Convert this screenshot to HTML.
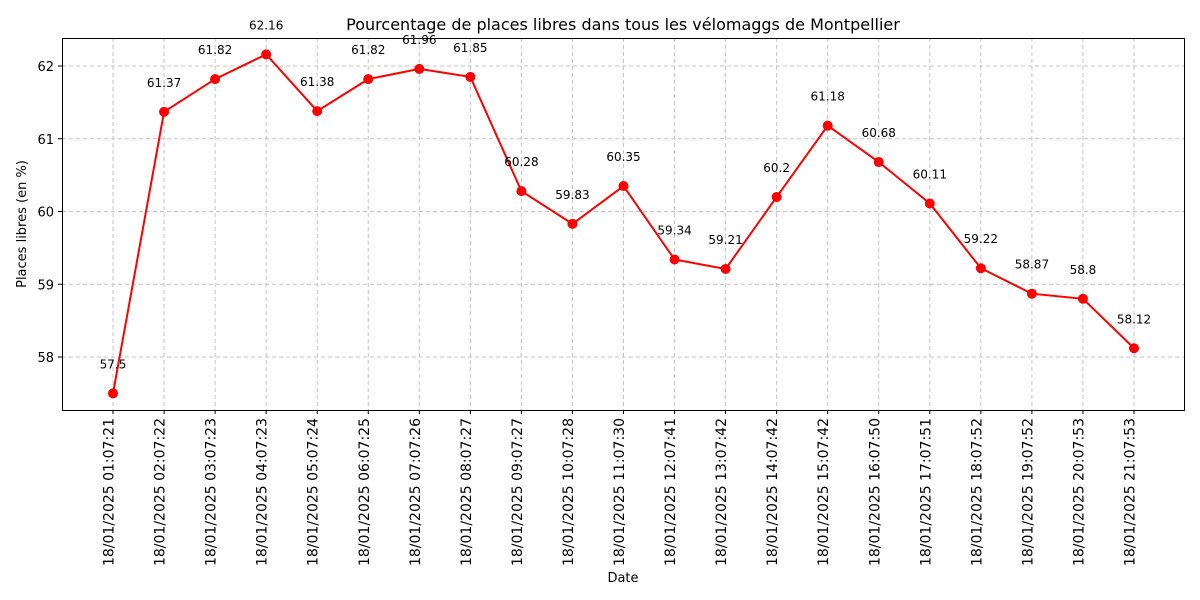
<!DOCTYPE html>
<html><head><meta charset="utf-8"><style>
html,body{margin:0;padding:0;background:#fff;}
svg{display:block;font-family:"DejaVu Sans","Liberation Sans",sans-serif;}
</style></head><body>
<svg id="chart" width="1200" height="600" viewBox="0 0 1200 600">
<rect x="0" y="0" width="1200" height="600" fill="#fff"/>
<text x="623" y="30" text-anchor="middle" font-size="16">Pourcentage de places libres dans tous les vélomaggs de Montpellier</text>
<g id="grid"></g>
<g id="xticks"></g>
<g id="yticks"></g>
<g id="series"></g>
<rect x="62.5" y="38.5" width="1122" height="372" fill="none" stroke="#000" stroke-width="1"/>
<text x="623" y="582" text-anchor="middle" font-size="13">Date</text>
<text transform="translate(26,224) rotate(-90)" text-anchor="middle" font-size="13">Places libres (en %)</text>
</svg>
<script>
const categories = ["18/01/2025 01:07:21","18/01/2025 02:07:22","18/01/2025 03:07:23","18/01/2025 04:07:23","18/01/2025 05:07:24","18/01/2025 06:07:25","18/01/2025 07:07:26","18/01/2025 08:07:27","18/01/2025 09:07:27","18/01/2025 10:07:28","18/01/2025 11:07:30","18/01/2025 12:07:41","18/01/2025 13:07:42","18/01/2025 14:07:42","18/01/2025 15:07:42","18/01/2025 16:07:50","18/01/2025 17:07:51","18/01/2025 18:07:52","18/01/2025 19:07:52","18/01/2025 20:07:53","18/01/2025 21:07:53"];
const values = [57.5,61.37,61.82,62.16,61.38,61.82,61.96,61.85,60.28,59.83,60.35,59.34,59.21,60.2,61.18,60.68,60.11,59.22,58.87,58.8,58.12];
const yTicks = [58,59,60,61,62];

const NS="http://www.w3.org/2000/svg";
const x0=113, x1=1134;
function xScale(i){return x0+(x1-x0)*i/(categories.length-1);}
function yScale(v){return 357-(v-58)*72.75;}
function mk(tag,attrs,parent){const e=document.createElementNS(NS,tag);for(const k in attrs)e.setAttribute(k,attrs[k]);parent.appendChild(e);return e;}
const grid=document.getElementById('grid'),xt=document.getElementById('xticks'),yt=document.getElementById('yticks'),ser=document.getElementById('series');

categories.forEach((c,i)=>{
  const x=xScale(i);
  const g=mk('line',{x1:x,x2:x,y1:38,y2:410,stroke:'#c4c4c4','stroke-dasharray':'4,3','stroke-width':1},grid);
  
  
  const t=mk('line',{x1:x,x2:x,y1:410,y2:414,stroke:'#000'},xt);
  
  
  const l=mk('text',{transform:`translate(${x+0.5},418) rotate(-90)`,'text-anchor':'end','font-size':14},xt);
  l.textContent=c;
  
  
});
yTicks.forEach(v=>{
  const y=yScale(v);
  const g=mk('line',{x1:62,x2:1185,y1:y,y2:y,stroke:'#c4c4c4','stroke-dasharray':'4,3','stroke-width':1},grid);
  
  
  const t=mk('line',{x1:58,x2:62,y1:y,y2:y,stroke:'#000'},yt);
  
  
  const l=mk('text',{x:54,y:y+5,'text-anchor':'end','font-size':13},yt);
  l.textContent=v;
  
  
});
const pts=values.map((v,i)=>xScale(i)+','+yScale(v)).join(' ');
const pl=mk('polyline',{points:pts,fill:'none',stroke:'#ff0000','stroke-width':2},ser);


values.forEach((v,i)=>{
  const c=mk('circle',{cx:xScale(i),cy:yScale(v),r:5,fill:'#ff0000'},ser);
  
  
  const t=mk('text',{x:xScale(i),y:yScale(v)-25,'text-anchor':'middle','font-size':12},ser);
  t.textContent=String(v);
  
  
});
</script>
</body></html>
